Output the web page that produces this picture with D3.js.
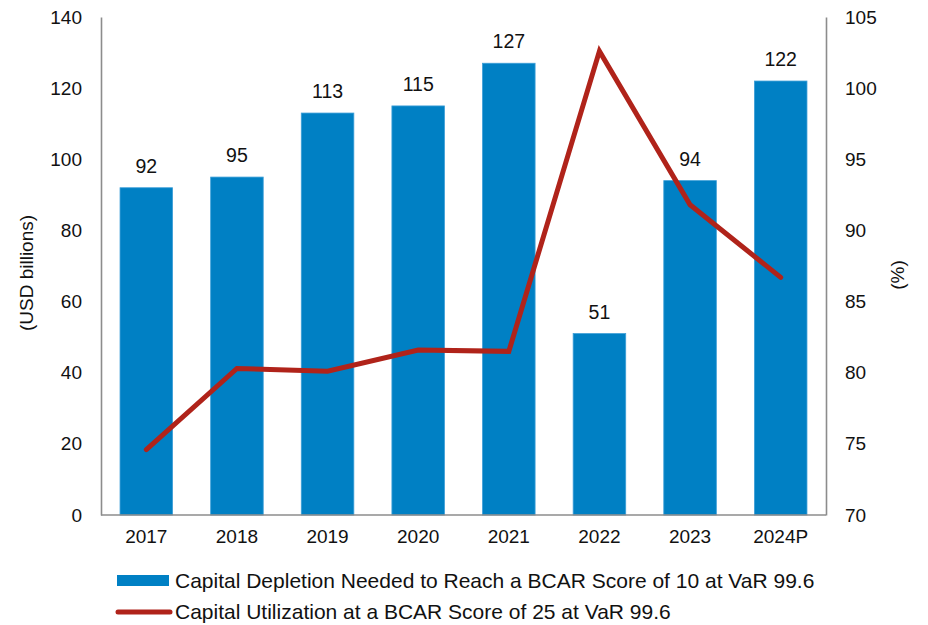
<!DOCTYPE html>
<html>
<head>
<meta charset="utf-8">
<script src="https://cdn.jsdelivr.net/npm/d3@7/dist/d3.min.js"></script>
<style>
  html, body { margin: 0; padding: 0; background: #ffffff; }
  svg { display: block; font-family: "Liberation Sans", Arial, sans-serif; }
</style>
</head>
<body>
<svg id="chart" width="928" height="625"></svg>
<script>
const categories = ["2017", "2018", "2019", "2020", "2021", "2022", "2023", "2024P"];
const depletion = [92, 95, 113, 115, 127, 51, 94, 122];
const utilization = [74.6, 80.3, 80.1, 81.6, 81.5, 102.6, 91.8, 86.7];
const leftTicks = [0, 20, 40, 60, 80, 100, 120, 140];
const rightTicks = [70, 75, 80, 85, 90, 95, 100, 105];
const barLegend = "Capital Depletion Needed to Reach a BCAR Score of 10 at VaR 99.6";
const lineLegend = "Capital Utilization at a BCAR Score of 25 at VaR 99.6";
const leftTitle = "(USD billions)";
const rightTitle = "(%)";

(function () {
const svg = d3.select("#chart");
const pLeft = 101, pRight = 826, pTop = 17, pBottom = 515;

const x = d3.scaleBand().domain(categories).range([pLeft, pRight]).paddingInner(0.42).paddingOuter(0.21);
const yL = d3.scaleLinear().domain([0, 140]).range([pBottom, pTop]);
const yR = d3.scaleLinear().domain([70, 105]).range([pBottom, pTop]);

const barColor = "#0080C4";
const lineColor = "#B0231A";
const axisColor = "#8C8C8C";
const textColor = "#111111";

// bars
svg.append("g").selectAll("rect").data(depletion).join("rect")
  .attr("x", (d, i) => x(categories[i]))
  .attr("width", x.bandwidth())
  .attr("y", d => yL(d))
  .attr("height", d => yL(0) - yL(d))
  .attr("fill", barColor)
  .attr("stroke", "#3d9fd8")
  .attr("stroke-width", 0.8);

// axes (lines only)
const axL = svg.append("g").attr("transform", `translate(${pLeft},0)`)
  .call(d3.axisLeft(yL).tickValues(leftTicks).tickSize(0).tickPadding(19));
const axR = svg.append("g").attr("transform", `translate(${pRight},0)`)
  .call(d3.axisRight(yR).tickValues(rightTicks).tickSize(0).tickPadding(19));
const axB = svg.append("g").attr("transform", `translate(0,${pBottom})`)
  .call(d3.axisBottom(x).tickSize(0).tickPadding(15));
[axL, axR, axB].forEach(a => {
  a.select(".domain").attr("stroke", axisColor).attr("stroke-width", 1.6);
  a.selectAll("text").attr("font-size", 19).attr("fill", textColor)
    .attr("font-family", "'Liberation Sans', Arial, sans-serif");
});
axB.select(".domain").attr("d", `M${pLeft},0H${pRight}`);

// line
const line = d3.line()
  .x((d, i) => x(categories[i]) + x.bandwidth() / 2)
  .y(d => yR(d));
svg.append("path").datum(utilization)
  .attr("d", line)
  .attr("fill", "none")
  .attr("stroke", lineColor)
  .attr("stroke-width", 5)
  .attr("stroke-linejoin", "miter")
  .attr("stroke-linecap", "round");

// data labels
svg.append("g").selectAll("text").data(depletion).join("text")
  .attr("x", (d, i) => x(categories[i]) + x.bandwidth() / 2)
  .attr("y", d => yL(d) - 15)
  .attr("text-anchor", "middle")
  .attr("font-size", 19.5)
  .attr("fill", textColor)
  .text(d => d);

// axis titles
svg.append("text")
  .attr("transform", `translate(33,273) rotate(-90)`)
  .attr("text-anchor", "middle")
  .attr("font-size", 19)
  .attr("fill", textColor)
  .text(leftTitle);
svg.append("text")
  .attr("transform", `translate(904,275) rotate(-90)`)
  .attr("text-anchor", "middle")
  .attr("font-size", 19)
  .attr("fill", textColor)
  .text(rightTitle);

// legend
const lg = svg.append("g");
lg.append("rect").attr("x", 117).attr("y", 575).attr("width", 52).attr("height", 11).attr("fill", barColor);
lg.append("text").attr("x", 175).attr("y", 588).attr("font-size", 21).attr("fill", textColor).text(barLegend);
lg.append("line").attr("x1", 118).attr("x2", 170).attr("y1", 612).attr("y2", 612)
  .attr("stroke", lineColor).attr("stroke-width", 5).attr("stroke-linecap", "round");
lg.append("text").attr("x", 175).attr("y", 619).attr("font-size", 21).attr("fill", textColor).text(lineLegend);
})();
</script>
</body>
</html>
